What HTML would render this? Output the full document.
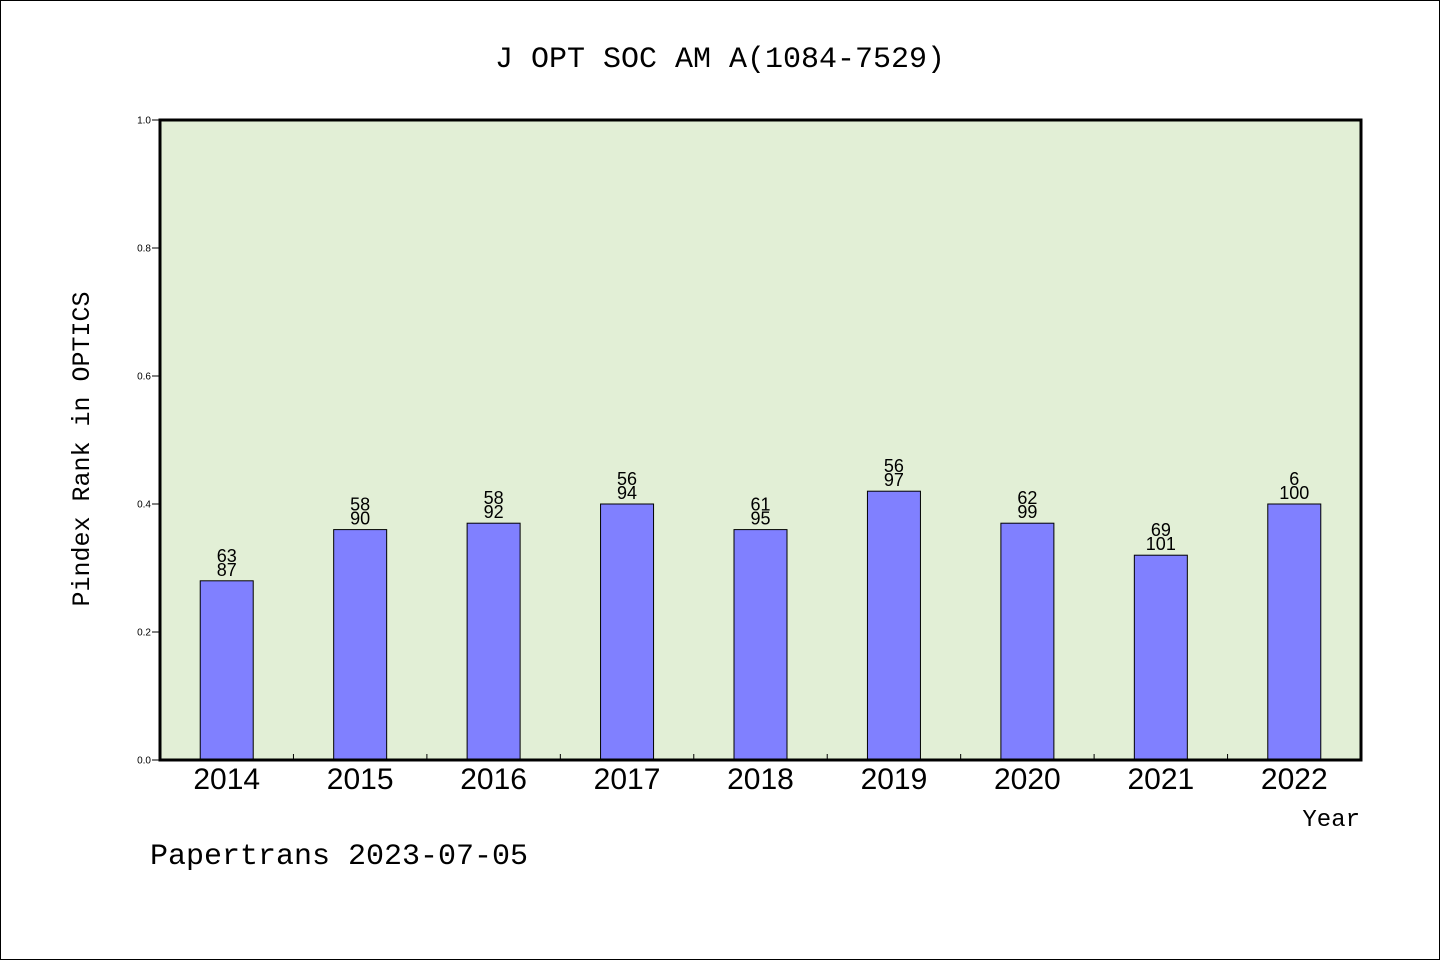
<!DOCTYPE html>
<html><head><meta charset="utf-8"><style>
html,body{margin:0;padding:0;background:#fff;}
svg{display:block;}
.mono{font-family:"Liberation Mono","WenQuanYi Zen Hei",monospace;}
.sans{font-family:"Liberation Sans","DejaVu Sans",sans-serif;}
</style></head><body>
<svg id="chart" width="1440" height="960" xmlns="http://www.w3.org/2000/svg">
<rect x="0.5" y="0.5" width="1439" height="959" fill="#fff" stroke="#000"/>
<text x="720" y="67" text-anchor="middle" font-size="30" class="mono">J OPT SOC AM A(1084-7529)</text>
<rect x="160" y="120" width="1201" height="640" fill="#e2efd6"/>
<g id="bars"></g>
<g id="yticks"></g>
<g id="xticks"></g>
<rect x="160" y="120" width="1201" height="640" fill="none" stroke="#000" stroke-width="3"/>
<text transform="translate(89,449) rotate(-90)" text-anchor="middle" font-size="25" class="mono">Pindex Rank in OPTICS</text>
<text x="1360" y="826" text-anchor="end" font-size="24" class="mono">Year</text>
<text x="150" y="864" font-size="30" class="mono">Papertrans 2023-07-05</text>
</svg>
<script>
const categories=["2014","2015","2016","2017","2018","2019","2020","2021","2022"];
const values=[0.28,0.36,0.37,0.40,0.36,0.42,0.37,0.32,0.40];
const topLabels=["63","58","58","56","61","56","62","69","6"];
const bottomLabels=["87","90","92","94","95","97","99","101","100"];
const yTicks=[0,0.2,0.4,0.6,0.8,1.0];
const yTickLabels=["0.0","0.2","0.4","0.6","0.8","1.0"];
const NS="http://www.w3.org/2000/svg";
const X0=160,W=1201,Y0=760,H=640;
const bw=W/categories.length;
const xc=i=>X0+bw*(i+0.5);
const y=v=>Y0-v*H;
function mk(t,a,p){const e=document.createElementNS(NS,t);for(const k in a)e.setAttribute(k,a[k]);p.appendChild(e);return e;}
const bars=document.getElementById('bars'),yt=document.getElementById('yticks'),xt=document.getElementById('xticks');
categories.forEach((c,i)=>{
  const r=mk('rect',{x:xc(i)-26.5,y:y(values[i]),width:53,height:Y0-y(values[i]),fill:'#8080ff',stroke:'#000','stroke-width':1},bars);
  
  
  const t1=mk('text',{x:xc(i),y:y(values[i])-19,'text-anchor':'middle','font-size':18,class:'sans'},bars);
  t1.textContent=topLabels[i];
  
  
  const t2=mk('text',{x:xc(i),y:y(values[i])-5,'text-anchor':'middle','font-size':18,class:'sans'},bars);
  t2.textContent=bottomLabels[i];
  
  
  const xl=mk('text',{x:xc(i),y:789,'text-anchor':'middle','font-size':30,class:'sans'},xt);
  xl.textContent=c;
  
  
  if(i>0){const l=mk('line',{x1:X0+bw*i,x2:X0+bw*i,y1:Y0,y2:Y0-6,stroke:'#000','stroke-width':1},xt);
  
  }
});
yTicks.forEach((v,i)=>{
  const l=mk('line',{x1:X0-8,x2:X0,y1:y(v),y2:y(v),stroke:'#000','stroke-width':1},yt);
  
  
  const t=mk('text',{x:X0-9,y:y(v)+3.5,'text-anchor':'end','font-size':10,class:'sans'},yt);
  t.textContent=yTickLabels[i];
  
  
});
</script>
</body></html>
